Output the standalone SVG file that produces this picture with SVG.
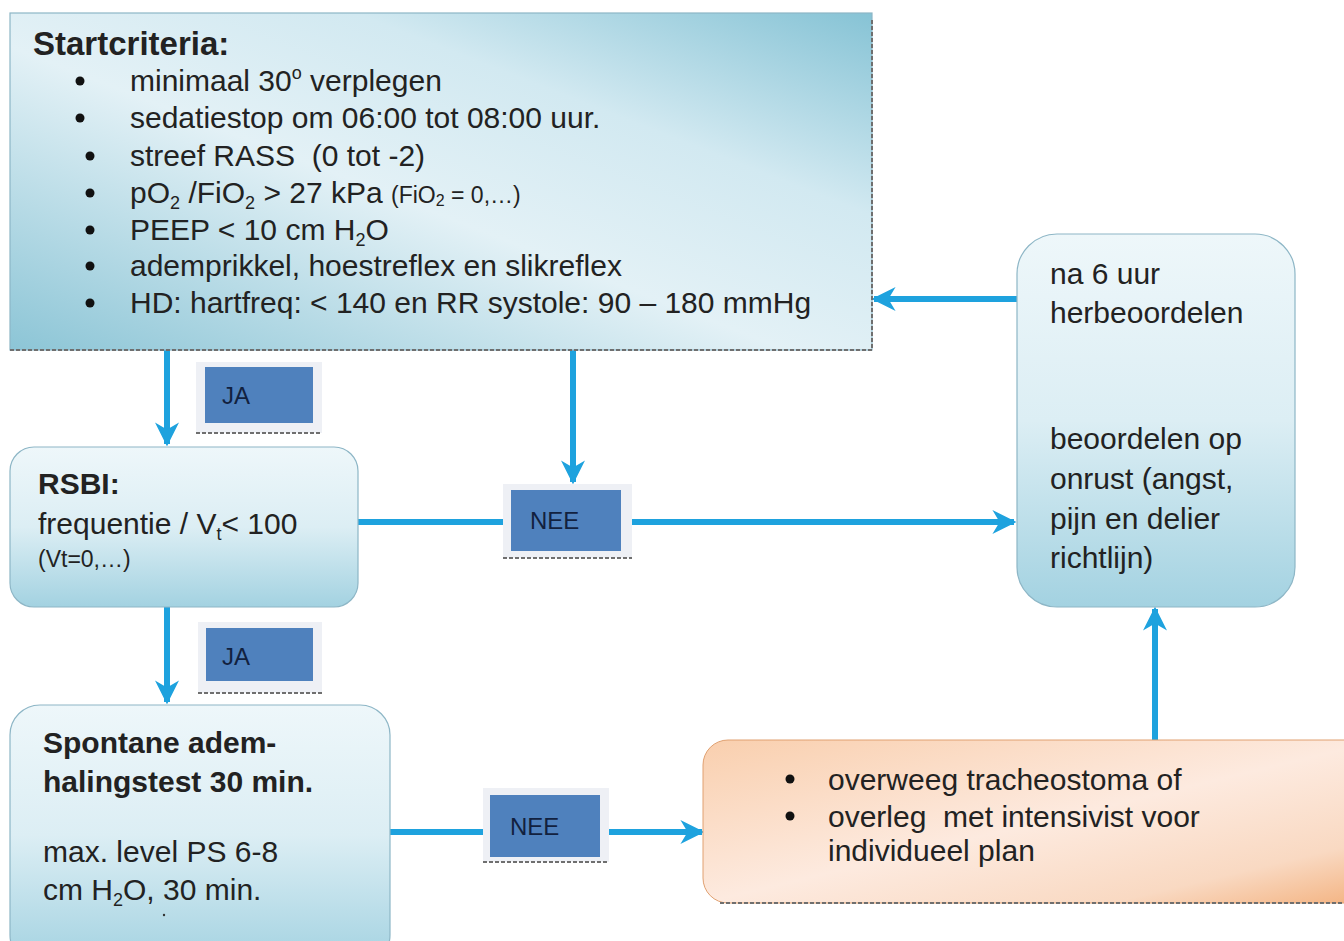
<svg xmlns="http://www.w3.org/2000/svg" width="1344" height="941" viewBox="0 0 1344 941">
<defs>
<linearGradient id="gStart" x1="0" y1="1" x2="1" y2="0">
<stop offset="0" stop-color="#8cc5d6"/>
<stop offset="0.45" stop-color="#e3f1f6"/>
<stop offset="0.7" stop-color="#d2e9f1"/>
<stop offset="1" stop-color="#86c3d5"/>
</linearGradient>
<linearGradient id="gBox" x1="0" y1="0" x2="0" y2="1">
<stop offset="0" stop-color="#eef7fa"/>
<stop offset="0.5" stop-color="#dceef4"/>
<stop offset="1" stop-color="#a3d2e1"/>
</linearGradient>
<linearGradient id="gOrange" x1="0" y1="0" x2="1" y2="1">
<stop offset="0" stop-color="#f9cfae"/>
<stop offset="0.5" stop-color="#fdeadf"/>
<stop offset="0.8" stop-color="#f9d9c2"/>
<stop offset="1" stop-color="#f3b07c"/>
</linearGradient>
<marker id="ah" viewBox="0 0 10 10" refX="9" refY="5" markerWidth="4" markerHeight="4" orient="auto" markerUnits="strokeWidth">
<path d="M0,0 L10,5 L0,10 L3,5 z" fill="#1ea2de"/>
</marker>
<style>
text{font-family:"Liberation Sans",Arial,sans-serif;fill:#222;}
.t{font-size:30px;}
.b{font-weight:bold;}
.s{font-size:23px;}
.lbl{font-size:24px;fill:#12213f;}
.conn{stroke:#1ea2de;stroke-width:6;fill:none;}
.box{stroke:#8db6c6;stroke-width:1.2;}
.shadow{stroke:#6f6f6f;stroke-width:2;stroke-dasharray:4 2;fill:none;}
.lo{fill:#eef0f5;}
.li{fill:#4f81bd;}
</style>
</defs>
<rect width="1344" height="941" fill="#ffffff"/>

<g id="connectors">
<line class="conn" x1="167" y1="350" x2="167" y2="444" marker-end="url(#ah)"/>
<line class="conn" x1="573" y1="350" x2="573" y2="482" marker-end="url(#ah)"/>
<line class="conn" x1="358" y1="522" x2="503" y2="522"/>
<line class="conn" x1="632" y1="522" x2="1014" y2="522" marker-end="url(#ah)"/>
<line class="conn" x1="1017" y1="299" x2="874" y2="299" marker-end="url(#ah)"/>
<line class="conn" x1="167" y1="607" x2="167" y2="702" marker-end="url(#ah)"/>
<line class="conn" x1="390" y1="832" x2="483" y2="832"/>
<line class="conn" x1="609" y1="832" x2="702" y2="832" marker-end="url(#ah)"/>
<line class="conn" x1="1155" y1="740" x2="1155" y2="609" marker-end="url(#ah)"/>
</g>

<g id="startcriteria">
<rect class="box" x="10" y="13" width="862" height="337" fill="url(#gStart)"/>
<line class="shadow" x1="10" y1="350" x2="872" y2="350"/>
<line class="shadow" x1="872" y1="20" x2="872" y2="350"/>
<text x="33" y="55" class="b" font-size="33">Startcriteria:</text>
<g class="t">
<circle cx="80" cy="81" r="4.5" fill="#111"/>
<text x="130" y="91">minimaal 30<tspan font-size="18" dy="-12">o</tspan><tspan dy="12"> verplegen</tspan></text>
<circle cx="80" cy="118" r="4.5" fill="#111"/>
<text x="130" y="128">sedatiestop om 06:00 tot 08:00 uur.</text>
<circle cx="90" cy="156" r="4.5" fill="#111"/>
<text x="130" y="166" xml:space="preserve">streef RASS  (0 tot -2)</text>
<circle cx="90" cy="193" r="4.5" fill="#111"/>
<text x="130" y="203">pO<tspan font-size="18" dy="6">2</tspan><tspan dy="-6"> /FiO</tspan><tspan font-size="18" dy="6">2</tspan><tspan dy="-6"> &gt; 27 kPa </tspan><tspan font-size="23">(FiO</tspan><tspan font-size="16" dy="3">2</tspan><tspan font-size="23" dy="-3"> = 0,…)</tspan></text>
<circle cx="90" cy="230" r="4.5" fill="#111"/>
<text x="130" y="240">PEEP &lt; 10 cm H<tspan font-size="18" dy="6">2</tspan><tspan dy="-6">O</tspan></text>
<circle cx="90" cy="266" r="4.5" fill="#111"/>
<text x="130" y="276">ademprikkel, hoestreflex en slikreflex</text>
<circle cx="90" cy="303" r="4.5" fill="#111"/>
<text x="130" y="313">HD: hartfreq: &lt; 140 en RR systole: 90 – 180 mmHg</text>
</g>
</g>

<g id="ja1">
<rect class="lo" x="196" y="362" width="126" height="71"/>
<line class="shadow" x1="196" y1="433" x2="322" y2="433"/>
<rect class="li" x="205" y="367" width="108" height="56"/>
<text x="222" y="404" class="lbl">JA</text>
</g>

<g id="rsbi">
<rect class="box" x="10" y="447" width="348" height="160" rx="24" fill="url(#gBox)"/>
<text x="38" y="494" class="t b">RSBI:</text>
<text x="38" y="534" class="t">frequentie / V<tspan font-size="18" dy="6">t</tspan><tspan dy="-6">&lt; 100</tspan></text>
<text x="38" y="567" class="s">(Vt=0,…)</text>
</g>

<g id="nee1">
<rect class="lo" x="503" y="484" width="129" height="74"/>
<line class="shadow" x1="503" y1="558" x2="632" y2="558"/>
<rect class="li" x="511" y="490" width="110" height="61"/>
<text x="530" y="529" class="lbl">NEE</text>
</g>

<g id="herbeoordelen">
<rect class="box" x="1017" y="234" width="278" height="373" rx="40" fill="url(#gBox)"/>
<g class="t">
<text x="1050" y="284">na 6 uur</text>
<text x="1050" y="323">herbeoordelen</text>
<text x="1050" y="449">beoordelen op</text>
<text x="1050" y="489">onrust (angst,</text>
<text x="1050" y="529">pijn en delier</text>
<text x="1050" y="568">richtlijn)</text>
</g>
</g>

<g id="ja2">
<rect class="lo" x="198" y="622" width="124" height="71"/>
<line class="shadow" x1="198" y1="693" x2="322" y2="693"/>
<rect class="li" x="206" y="628" width="107" height="53"/>
<text x="222" y="665" class="lbl">JA</text>
</g>

<g id="spontane">
<rect class="box" x="10" y="705" width="380" height="260" rx="30" fill="url(#gBox)"/>
<g class="t">
<text x="43" y="753" font-weight="bold" fill="#1a1a1a">Spontane adem-</text>
<text x="43" y="792" font-weight="bold" fill="#1a1a1a">halingstest 30 min.</text>
<text x="43" y="862">max. level PS 6-8</text>
<text x="43" y="900">cm H<tspan font-size="18" dy="6">2</tspan><tspan dy="-6">O, 30 min.</tspan></text>
</g>
<circle cx="164" cy="915" r="1.2" fill="#333"/>
</g>

<g id="nee2">
<rect class="lo" x="483" y="788" width="126" height="74"/>
<line class="shadow" x1="483" y1="862" x2="609" y2="862"/>
<rect class="li" x="490" y="795" width="110" height="62"/>
<text x="510" y="835" class="lbl">NEE</text>
</g>

<g id="tracheostoma">
<rect x="703" y="740" width="680" height="163" rx="25" fill="url(#gOrange)" stroke="#e0a070" stroke-width="1"/>
<line class="shadow" x1="720" y1="903" x2="1344" y2="903"/>
<g class="t">
<circle cx="790" cy="779" r="4.5" fill="#111"/>
<text x="828" y="790">overweeg tracheostoma of</text>
<circle cx="790" cy="816" r="4.5" fill="#111"/>
<text x="828" y="827" xml:space="preserve">overleg  met intensivist voor</text>
<text x="828" y="861">individueel plan</text>
</g>
</g>
</svg>
